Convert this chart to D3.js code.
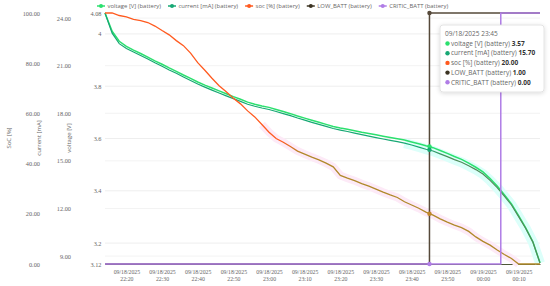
<!DOCTYPE html>
<html>
<head>
<meta charset="utf-8">
<script src="https://cdn.jsdelivr.net/npm/d3@7"></script>
<style>
body { margin: 0; background: #fff; }
svg { display: block; font-family: "Open Sans", sans-serif; }
.axis text { font-family: "Liberation Serif", serif; fill: #666; }
</style>
</head>
<body>
<div id="chart"></div>
<script>
// samples every 2 minutes from 22:14 to 00:16
const startTime = new Date(2025, 8, 18, 22, 14);
const endTime = new Date(2025, 8, 19, 0, 16);
const sampleMinutes = 2;

const voltage = [4.08, 4.01, 3.972, 3.952, 3.938, 3.925, 3.911, 3.897, 3.884, 3.870,
    3.857, 3.843, 3.830, 3.816, 3.804, 3.793, 3.782, 3.771, 3.760, 3.750,
    3.739, 3.731, 3.724, 3.719, 3.711, 3.703, 3.695, 3.686, 3.678, 3.670,
    3.662, 3.654, 3.646, 3.640, 3.635, 3.630, 3.624, 3.619, 3.614, 3.609,
    3.604, 3.599, 3.594, 3.587, 3.580, 3.572, 3.565, 3.554, 3.543, 3.531,
    3.520, 3.506, 3.490, 3.472, 3.447, 3.418, 3.385, 3.350, 3.305, 3.258,
    3.205, 3.125];

const current = [24.32, 23.05, 22.39, 22.08, 21.86, 21.64, 21.42, 21.18, 20.96, 20.73,
    20.52, 20.29, 20.07, 19.84, 19.65, 19.46, 19.28, 19.10, 18.92, 18.75,
    18.57, 18.44, 18.33, 18.24, 18.11, 17.98, 17.85, 17.70, 17.57, 17.43,
    17.30, 17.17, 17.04, 16.94, 16.85, 16.75, 16.65, 16.56, 16.47, 16.38,
    16.29, 16.21, 16.12, 16.00, 15.87, 15.73, 15.62, 15.44, 15.27, 15.08,
    14.91, 14.69, 14.45, 14.17, 13.77, 13.31, 12.78, 12.22, 11.49, 10.74,
    9.88, 8.56];

const soc = [100, 100, 99, 98.5, 97.5, 97, 96.2, 94.8, 93, 91.3,
    89, 87, 84, 80.2, 77.2, 74, 71, 68.6, 66, 63.8,
    61, 58.6, 55.6, 52.5, 50, 48.5, 46.8, 45, 43.8, 42.6,
    41.5, 40.2, 38.7, 35.3, 34.2, 33.2, 32, 31, 29.8, 28.6,
    27.5, 26.5, 24.8, 23.5, 22.2, 20.7, 19.5, 18, 16.7, 15.5,
    14.5, 13, 10.8, 9, 7.5, 5.6, 3.8, 2.2, 0, 0,
    0, 0];

const lowBattTimes = [startTime, new Date(2025, 8, 18, 23, 45), endTime];
const lowBattValues = [0, 1, 1];
const criticTimes = [startTime, new Date(2025, 8, 19, 0, 5), endTime];
const criticValues = [0, 1, 1];

const voltageTicks = [3.12, 3.2, 3.4, 3.6, 3.8, 4, 4.08];
const currentTicks = [9, 12, 15, 18, 21, 24];
const socTicks = [0, 20, 40, 60, 80, 100];

const seriesNames = ['voltage [V] (battery)', 'current [mA] (battery)', 'soc [%] (battery)',
    'LOW_BATT (battery)', 'CRITIC_BATT (battery)'];
const seriesColors = ['#2be06e', '#17a874', '#ff5a1f', '#3b3322', '#b07de6'];

const hoverTime = new Date(2025, 8, 18, 23, 45);
const hoverValues = [3.57, 15.70, 20.00, 1.00, 0.00];

const width = 550, height = 286;
const margin = { top: 13, right: 10, bottom: 22, left: 105 };

const svg = d3.select('#chart').append('svg')
    .attr('width', width)
    .attr('height', height);

const defs = svg.append('defs');

const x = d3.scaleTime()
    .domain([startTime, endTime])
    .range([margin.left, width - margin.right]);
const yV = d3.scaleLinear().domain([3.12, 4.08]).range([height - margin.bottom, margin.top]);
const yC = d3.scaleLinear().domain([8.5, 24.32]).range([height - margin.bottom, margin.top]);
const yS = d3.scaleLinear().domain([0, 100]).range([height - margin.bottom, margin.top]);
const yB = d3.scaleLinear().domain([0, 1]).range([height - margin.bottom, margin.top]);

const times = voltage.map((d, i) => d3.timeMinute.offset(startTime, i * sampleMinutes));

// grid lines
const grid = svg.append('g');
grid.selectAll('line.gv')
    .data(voltageTicks.slice(1, -1))
    .join('line')
    .attr('x1', margin.left).attr('x2', width - margin.right)
    .attr('y1', d => yV(d)).attr('y2', d => yV(d))
    .attr('stroke', '#eeeeee');
grid.selectAll('line.gc')
    .data(currentTicks)
    .join('line')
    .attr('x1', margin.left).attr('x2', width - margin.right)
    .attr('y1', d => yC(d)).attr('y2', d => yC(d))
    .attr('stroke', '#f3f3f3');

// left axes
function leftAxis(scale, ticks, fmt, xPos) {
    const g = svg.append('g')
        .attr('class', 'axis')
        .attr('transform', `translate(${xPos},0)`)
        .call(d3.axisLeft(scale).tickValues(ticks).tickFormat(fmt).tickSize(0).tickPadding(0));
    g.select('.domain').remove();
    g.selectAll('text').attr('font-size', 6.3).attr('fill', '#666');
}
leftAxis(yV, voltageTicks, d => String(d), 101.5);
leftAxis(yC, currentTicks, d3.format('.2f'), 71);
leftAxis(yS, socTicks, d3.format('.2f'), 40);

// axis titles
[['SoC [%]', 9], ['current [mA]', 39], ['voltage [V]', 69]].forEach(([t, px]) => {
    svg.append('text')
        .attr('transform', `translate(${px},138) rotate(-90)`)
        .attr('text-anchor', 'middle')
        .attr('dominant-baseline', 'middle')
        .attr('font-size', 6)
        .attr('fill', '#666')
        .text(t);
});

// x axis: line and two-line time labels
const xAxis = svg.append('g')
    .attr('class', 'axis')
    .attr('transform', `translate(0,${height - margin.bottom})`)
    .call(d3.axisBottom(x).ticks(d3.timeMinute.every(10)).tickSize(0).tickFormat(''));
xAxis.select('.domain').attr('stroke', '#4e5838').attr('stroke-width', 1.2);
xAxis.selectAll('.tick text').remove();
xAxis.selectAll('.tick').each(function (d) {
    const tk = d3.select(this);
    tk.append('text')
        .attr('y', 5.5).attr('dy', '0.71em')
        .attr('font-size', 5.8).attr('fill', '#666').attr('text-anchor', 'middle')
        .text(d3.timeFormat('%m/%d/%Y')(d));
    tk.append('text')
        .attr('y', 12.5).attr('dy', '0.71em')
        .attr('font-size', 5.8).attr('fill', '#666').attr('text-anchor', 'middle')
        .text(d3.timeFormat('%H:%M')(d));
});

// gradients
const socGrad = defs.append('linearGradient')
    .attr('id', 'socGrad')
    .attr('gradientUnits', 'userSpaceOnUse')
    .attr('x1', 0).attr('x2', 0)
    .attr('y1', yS(49)).attr('y2', yS(44));
socGrad.append('stop').attr('offset', 0).attr('stop-color', seriesColors[2]);
socGrad.append('stop').attr('offset', 1).attr('stop-color', '#b0892a');

const curGrad = defs.append('linearGradient')
    .attr('id', 'curGrad')
    .attr('gradientUnits', 'userSpaceOnUse')
    .attr('x1', 0).attr('x2', 0)
    .attr('y1', yC(15.9)).attr('y2', yC(15.2));
curGrad.append('stop').attr('offset', 0).attr('stop-color', seriesColors[1]);
curGrad.append('stop').attr('offset', 1).attr('stop-color', '#4e8c5a');

const plot = svg.append('g');

const pts = (vals, scale) => vals.map((v, i) => [x(times[i]), scale(v)]);
const line = d3.line();
const stepAfter = d3.line().curve(d3.curveStepAfter);

// faint glow bands behind the lines
plot.append('path')
    .attr('d', line(pts(soc, yS).filter((p, i) => soc[i] < 56 && (soc[i] > 0 || soc[i - 1] > 0))))
    .attr('fill', 'none')
    .attr('stroke', '#fdeaf7')
    .attr('stroke-width', 8);
plot.append('path')
    .attr('d', line(pts(current, yC).filter((p, i) => current[i] < 16.2)))
    .attr('fill', 'none')
    .attr('stroke', '#dcfffa')
    .attr('stroke-width', 10);

// voltage
plot.append('path')
    .attr('d', line(pts(voltage, yV)))
    .attr('fill', 'none')
    .attr('stroke', seriesColors[0])
    .attr('stroke-width', 1.5);

// current
plot.append('path')
    .attr('d', line(pts(current, yC)))
    .attr('fill', 'none')
    .attr('stroke', 'url(#curGrad)')
    .attr('stroke-width', 1.2);

// soc
plot.append('path')
    .attr('d', line(pts(soc, yS)))
    .attr('fill', 'none')
    .attr('stroke', 'url(#socGrad)')
    .attr('stroke-width', 1.3);

// battery flags
plot.append('path')
    .attr('d', stepAfter(lowBattValues.map((v, i) => [x(lowBattTimes[i]), yB(v)])))
    .attr('fill', 'none')
    .attr('stroke', '#56493a')
    .attr('stroke-width', 1.5);
plot.append('path')
    .attr('d', stepAfter(criticValues.map((v, i) => [x(criticTimes[i]), yB(v)])))
    .attr('fill', 'none')
    .attr('stroke', seriesColors[4])
    .attr('stroke-width', 1.5);

// hover dots
const hx = x(hoverTime);
const hoverY = [yV(hoverValues[0]), yC(hoverValues[1]), yS(hoverValues[2]), yB(hoverValues[3]), yB(hoverValues[4])];
const dotColors = [seriesColors[0], seriesColors[1], '#c0862a', '#56493a', seriesColors[4]];
plot.selectAll('circle.hover')
    .data(hoverY)
    .join('circle')
    .attr('cx', hx)
    .attr('cy', d => d)
    .attr('r', 2.2)
    .attr('fill', (d, i) => dotColors[i]);

// legend
const legend = svg.append('g').attr('font-size', 5.9).attr('fill', '#666');
let lx = 97;
seriesNames.forEach((name, i) => {
    const g = legend.append('g').attr('transform', `translate(${lx},6)`);
    g.append('line').attr('x1', 0).attr('x2', 8).attr('stroke', seriesColors[i]).attr('stroke-width', 1.5);
    g.append('circle').attr('cx', 4).attr('r', 2).attr('fill', seriesColors[i]);
    const t = g.append('text').attr('x', 10.5).attr('dy', '0.35em').text(name);
    lx += 10.5 + t.node().getComputedTextLength() + 7;
});

// tooltip
const shadow = defs.append('filter').attr('id', 'shadow')
    .attr('x', '-20%').attr('y', '-20%').attr('width', '140%').attr('height', '140%');
shadow.append('feDropShadow').attr('dx', 0).attr('dy', 1).attr('stdDeviation', 2)
    .attr('flood-color', '#000').attr('flood-opacity', 0.15);

const tip = svg.append('g').attr('transform', 'translate(440,25)');
tip.append('rect')
    .attr('width', 104).attr('height', 67).attr('rx', 3)
    .attr('fill', '#fff').attr('stroke', '#ddd').attr('stroke-width', 0.8)
    .attr('filter', 'url(#shadow)');
tip.append('text')
    .attr('x', 5).attr('y', 9).attr('dy', '0.35em')
    .attr('font-size', 6.5).attr('fill', '#666')
    .text(d3.timeFormat('%m/%d/%Y %H:%M')(hoverTime));
seriesNames.forEach((name, i) => {
    const row = tip.append('g').attr('transform', `translate(0,${18.5 + i * 9.7})`);
    row.append('circle').attr('cx', 7.5).attr('r', 2.2).attr('fill', seriesColors[i]);
    const t = row.append('text').attr('x', 11).attr('dy', '0.35em').attr('font-size', 6.5).attr('fill', '#666');
    t.append('tspan').text(name + ' ');
    t.append('tspan').attr('font-weight', 'bold').attr('fill', '#333').text(d3.format('.2f')(hoverValues[i]));
});
</script>
</body>
</html>
